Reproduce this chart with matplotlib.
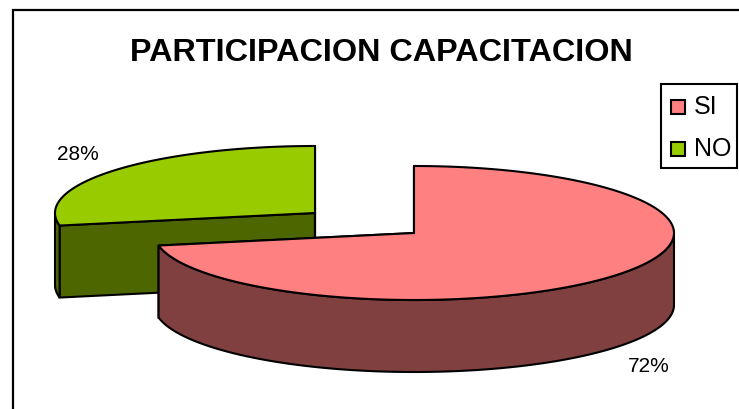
import numpy as np
import matplotlib
matplotlib.use("Agg")
import matplotlib.pyplot as plt
from matplotlib.patches import Polygon, Rectangle

plt.rcParams["font.family"] = ["Liberation Sans", "DejaVu Sans"]

labels = ["SI", "NO"]
values = [72, 28]
top_colors = ["#ff8080", "#99cc00"]
side_colors = ["#804040", "#4d6600"]

# pie geometry, in pixels
RX, RY, DEPTH = 260, 67, 72
centers = [(414, 233), (315, 213)]

fig = plt.figure(figsize=(7.39, 4.09), dpi=100)
ax = fig.add_axes([0, 0, 1, 1])
ax.set_xlim(0, 739)
ax.set_ylim(409, 0)
ax.axis("off")

ax.add_patch(Rectangle((12.5, 10), 800, 500, fc="white", ec="black", lw=1.6))


def arc(cx, cy, a0, a1, dy=0):
    t = np.radians(np.linspace(a0, a1, 200))
    return np.column_stack([cx + RX * np.cos(t), cy - RY * np.sin(t) + dy])


def draw_slice(center, a0, a1, top, side, z):
    cx, cy = center
    # a0 > a1, clockwise from a0 to a1
    # cut faces
    for a in (a0, a1):
        p = arc(cx, cy, a, a, 0)[0]
        face = [(cx, cy), p, p + [0, DEPTH], (cx, cy + DEPTH)]
        ax.add_patch(Polygon(face, fc=side, ec="black", lw=1.5, zorder=z))
    # outer wall: only the front part of the rim
    lo = np.linspace(a0, a1, 400)
    vis = lo[np.sin(np.radians(lo)) <= 0]
    if len(vis):
        t = np.radians(vis)
        up = np.column_stack([cx + RX * np.cos(t), cy - RY * np.sin(t)])
        wall = np.vstack([up, up[::-1] + [0, DEPTH]])
        ax.add_patch(Polygon(wall, fc=side, ec="black", lw=1.5, zorder=z))
    rim = arc(cx, cy, a0, a1)
    ax.add_patch(Polygon(np.vstack([[(cx, cy)], rim]), fc=top, ec="black", lw=1.5, zorder=z + 0.5))


# slices run clockwise from 12 o'clock
start = 90
angles = []
for v in values:
    sweep = v / sum(values) * 360
    angles.append((start, start - sweep))
    start -= sweep

draw_slice(centers[1], angles[1][0], angles[1][1], top_colors[1], side_colors[1], 2)
draw_slice(centers[0], angles[0][0], angles[0][1], top_colors[0], side_colors[0], 3)

ax.text(381, 53, "PARTICIPACION CAPACITACION", fontsize=23.3, fontweight="bold",
        ha="center", va="center", zorder=5)
ax.text(78, 155, f"{values[1]}%", fontsize=15, ha="center", va="center", zorder=5)
ax.text(649, 366, f"{values[0]}%", fontsize=15, ha="center", va="center", zorder=5)

# legend
ax.add_patch(Rectangle((661, 84), 76, 84, fc="white", ec="black", lw=1.5, zorder=5))
for i, (lab, col) in enumerate(zip(labels, top_colors)):
    y = 107 + i * 42
    ax.add_patch(Rectangle((671, y - 7), 14, 14, fc=col, ec="black", lw=1.5, zorder=6))
    ax.text(694, y, lab, fontsize=18, ha="left", va="center", zorder=6)

fig.savefig("out.png", dpi=100)
